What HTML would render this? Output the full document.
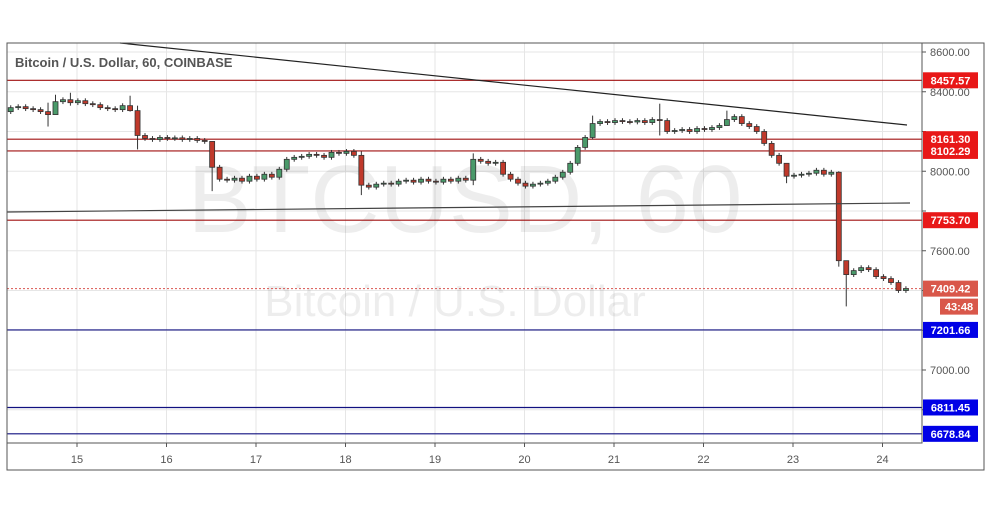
<!DOCTYPE html>
<html><head><meta charset="utf-8">
<style>
html,body{margin:0;padding:0;background:#fff;}
svg{display:block;font-family:"Liberation Sans",sans-serif;}
</style></head>
<body>
<svg id="chart" width="991" height="507" viewBox="0 0 991 507" xmlns="http://www.w3.org/2000/svg">
<rect x="0" y="0" width="991" height="507" fill="#fff"/>
<g id="grid"></g>
<g id="wm">
<text x="465" y="232" text-anchor="middle" font-size="96" fill="#000" fill-opacity="0.07">BTCUSD, 60</text>
<text x="455" y="316" text-anchor="middle" font-size="44" fill="#000" fill-opacity="0.07">Bitcoin / U.S. Dollar</text>
</g>
<g id="levels"></g>
<g id="candles"></g>
<line x1="120" y1="43" x2="907" y2="125" stroke="#222" stroke-width="1.2"/>
<line x1="7" y1="212" x2="910" y2="203" stroke="#444" stroke-width="1.2"/>
<rect x="7" y="43" width="915" height="400" fill="none" stroke="#555"/>
<rect x="7" y="43" width="977" height="427" fill="none" stroke="#555"/>
<g id="axes"></g>
<g id="labels"></g>
<text x="15" y="67" font-size="13" font-weight="bold" fill="#555">Bitcoin / U.S. Dollar, 60, COINBASE</text>
</svg>
<script>
const dayLabels = ["15","16","17","18","19","20","21","22","23","24"];
const priceTicks = [8600,8400,8200,8000,7800,7600,7400,7200,7000,6800];
const shownTicks = [8600,8400,8000,7600,7000];
const redLevels = [8457.57,8161.30,8102.29,7753.70];
const blueLevels = [7201.66,6811.45,6678.84];
const lastPrice = 7409.42;
const countdown = "43:48";
const closes = [8320,8325,8315,8310,8300,8285,8350,8360,8345,8355,
8340,8335,8320,8315,8310,8330,8305,8180,8165,8160,
8170,8165,8168,8160,8165,8155,8150,8020,7960,7955,
7965,7950,7975,7960,7985,7970,8010,8060,8070,8075,
8085,8080,8070,8095,8090,8100,8080,7930,7920,7935,
7940,7935,7950,7955,7945,7960,7950,7945,7960,7950,
7965,7955,8060,8050,8040,8045,7985,7960,7940,7925,
7935,7940,7950,7970,7995,8040,8120,8170,8240,8250,
8245,8255,8250,8248,8255,8245,8260,8255,8200,8205,
8210,8200,8215,8210,8220,8230,8260,8275,8240,8225,
8200,8140,8080,8040,7975,7980,7985,7990,8005,7985,
7995,7550,7480,7500,7515,7505,7470,7460,7440,7400,7409.42];
const firstOpen = 8300;
const tallWicks = [[5,8345,8225],[6,8385,8300],[8,8395,8330],[16,8380,8300],[17,8330,8110],[27,8150,7900],[47,8100,7880],[62,8090,7930],[78,8280,8160],[87,8340,8180],[96,8305,8230],[104,8040,7940],[111,8000,7520],[112,7530,7320]];

const NS="http://www.w3.org/2000/svg";
const X0=7, X1=922, Y0=43, Y1=443;
const xDay = d => 77 + d*89.5;           // d = day index from 15
const xCandle = i => X0 + (i+0.5)*7.46;
const yP = p => 52 + (8600-p)*0.19875;
function mk(tag, attrs, parent){const e=document.createElementNS(NS,tag);for(const k in attrs)e.setAttribute(k,attrs[k]);parent.appendChild(e);return e;}
const grid=document.getElementById('grid'), levels=document.getElementById('levels'),
 cg=document.getElementById('candles'), axes=document.getElementById('axes'), lab=document.getElementById('labels');

dayLabels.forEach((d,i)=>{
  const x=xDay(i);
  const l=mk('line',{x1:x,y1:Y0,x2:x,y2:Y1,stroke:'#e6e6e6'},grid);
  
  
  const t=mk('line',{x1:x,y1:Y1,x2:x,y2:Y1+4,stroke:'#555'},axes);
  
  
  const tx=mk('text',{x:x,y:463,'text-anchor':'middle','font-size':11,fill:'#555'},axes);
  tx.textContent=d;
  
  
});
priceTicks.forEach(p=>{
  const y=yP(p); if(y<Y0||y>Y1) return;
  const l=mk('line',{x1:X0,y1:y,x2:X1,y2:y,stroke:'#e6e6e6'},grid);
  
  
  const t=mk('line',{x1:X1,y1:y,x2:X1+4,y2:y,stroke:'#555'},axes);
  
  
  if(shownTicks.includes(p)){
    const tx=mk('text',{x:930,y:y+4,'font-size':11,fill:'#555'},axes);
    tx.textContent=p.toFixed(2);
    
    
  }
});
function level(p,color,name){
  const y=yP(p);
  const l=mk('line',{x1:X0,y1:y,x2:X1,y2:y,stroke:color,'stroke-width':1.2},levels);
  
  
  label(p.toFixed(2),y,color==='#a01010'?'#e81717':'#0000e6',name+'-label');
}
function label(txt,y,bg,name,x0){
  x0=x0||923;
  const r=mk('rect',{x:x0,y:y-8,width:978-x0,height:16,fill:bg},lab);
  
  
  const t=mk('text',{x:(x0+978)/2,y:y+4,'text-anchor':'middle','font-size':11,'font-weight':'bold',fill:'#fff'},lab);
  t.textContent=txt;
  
  
}
redLevels.forEach(p=>level(p,'#a01010','resistance'));
blueLevels.forEach(p=>level(p,'#101080','support'));
const ly=yP(lastPrice);
const lp=mk('line',{x1:X0,y1:ly,x2:X1,y2:ly,stroke:'#d9534f','stroke-dasharray':'2,2'},levels);


label(lastPrice.toFixed(2),ly,'#d9574a','last-price-label');
label(countdown,ly+18,'#d9574a','countdown-label',940);

const wickMap={}; tallWicks.forEach(w=>wickMap[w[0]]=w);
closes.forEach((c,i)=>{
  const o=i===0?firstOpen:closes[i-1];
  let hi=Math.max(o,c)+12, lo=Math.min(o,c)-12;
  if(wickMap[i]){hi=wickMap[i][1];lo=wickMap[i][2];}
  const x=xCandle(i), up=c>=o;
  const w=mk('line',{x1:x,y1:yP(hi),x2:x,y2:yP(lo),stroke:'#333'},cg);
  
  
  const yt=yP(Math.max(o,c)), yb=yP(Math.min(o,c));
  const b=mk('rect',{x:x-2.5,y:yt,width:5,height:Math.max(1,yb-yt),fill:up?'#4a9a6a':'#c0392b',stroke:'#333','stroke-width':0.8},cg);
  
  
});
</script>
</body></html>
